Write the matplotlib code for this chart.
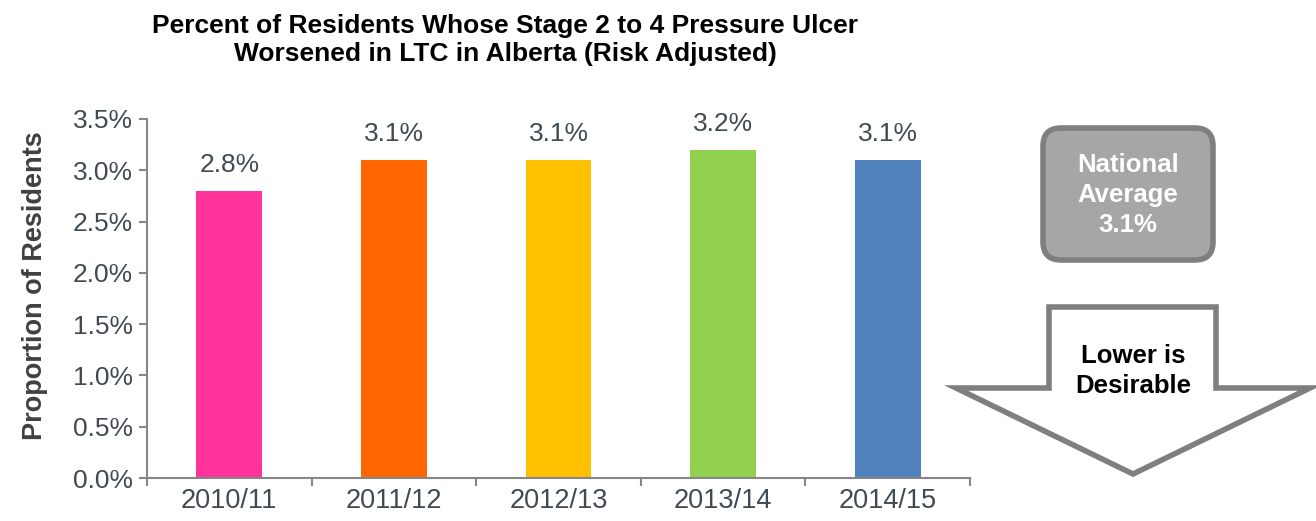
import numpy as np
import matplotlib
matplotlib.use("Agg")
import matplotlib.pyplot as plt
from matplotlib.patches import FancyBboxPatch, Polygon
from matplotlib.ticker import FuncFormatter, FixedLocator

plt.rcParams['font.family'] = ['Liberation Sans', 'DejaVu Sans']

years = ['2010/11', '2011/12', '2012/13', '2013/14', '2014/15']
rates = [2.8, 3.1, 3.1, 3.2, 3.1]
bar_colors = ['#FF3399', '#FF6600', '#FFC000', '#92D050', '#4F81BD']
national_avg = 3.1

W, H = 1316, 521
fig = plt.figure(figsize=(W / 100, H / 100), dpi=100)
ax = fig.add_axes([147 / W, 1 - 478 / H, 823 / W, 359 / H])

x = np.arange(len(years))
ax.bar(x, rates, width=0.4, color=bar_colors)
for xi, v in zip(x, rates):
    ax.annotate(f"{v:.1f}%", (xi, v), xytext=(0, 10), textcoords='offset points',
                ha='center', va='bottom', fontsize=19, color='#3F4A52')

ax.set_xlim(-0.5, len(years) - 0.5)
ax.set_ylim(0, 3.5)
ax.set_yticks(np.arange(0, 3.51, 0.5))
ax.yaxis.set_major_formatter(FuncFormatter(lambda v, p: f"{v:.1f}%"))
ax.set_xticks(x)
ax.set_xticklabels(years)
ax.xaxis.set_minor_locator(FixedLocator(np.arange(-0.5, len(years), 1.0)))
ax.tick_params(axis='x', which='major', length=0, pad=7, labelsize=19.5, labelcolor='#3F4A52')
ax.tick_params(axis='x', which='minor', length=6, color='#868686', width=1.5)
ax.tick_params(axis='y', length=6, color='#868686', width=1.5, labelsize=19,
               labelcolor='#3F4A52', pad=4)
for s in ['top', 'right']:
    ax.spines[s].set_visible(False)
for s in ['left', 'bottom']:
    ax.spines[s].set_color('#868686')
    ax.spines[s].set_linewidth(1.5)
ax.set_ylabel('Proportion of Residents', fontsize=19.5, fontweight='bold',
              color='#404040')
ax.yaxis.set_label_coords(-0.12, 0.535)

fig.text(505 / W, 1 - 40 / H,
         'Percent of Residents Whose Stage 2 to 4 Pressure Ulcer\nWorsened in LTC in Alberta (Risk Adjusted)',
         ha='center', va='center', fontsize=19, fontweight='bold', color='black',
         linespacing=1.2)

# overlay in pixel coordinates for the side shapes
ov = fig.add_axes([0, 0, 1, 1])
ov.set_xlim(0, W)
ov.set_ylim(H, 0)
ov.axis('off')

box = FancyBboxPatch((1043, 128), 170, 132, boxstyle='round,pad=0,rounding_size=18',
                     facecolor='#A6A6A6', edgecolor='#7F7F7F', linewidth=4)
ov.add_patch(box)
ov.text(1128, 195, f"National\nAverage\n{national_avg:.1f}%", ha='center', va='center',
        fontsize=18.5, fontweight='bold', color='white', linespacing=1.3)

arrow_pts = [(1049, 307), (1216, 307), (1216, 388), (1310, 388), (1133, 474),
             (956, 388), (1049, 388)]
ov.add_patch(Polygon(arrow_pts, closed=True, facecolor='white', edgecolor='#7F7F7F',
                     linewidth=4, joinstyle='miter'))
ov.text(1133, 371, 'Lower is\nDesirable', ha='center', va='center', fontsize=18.5,
        fontweight='bold', color='black', linespacing=1.3)

fig.savefig('out.png', dpi=100)
